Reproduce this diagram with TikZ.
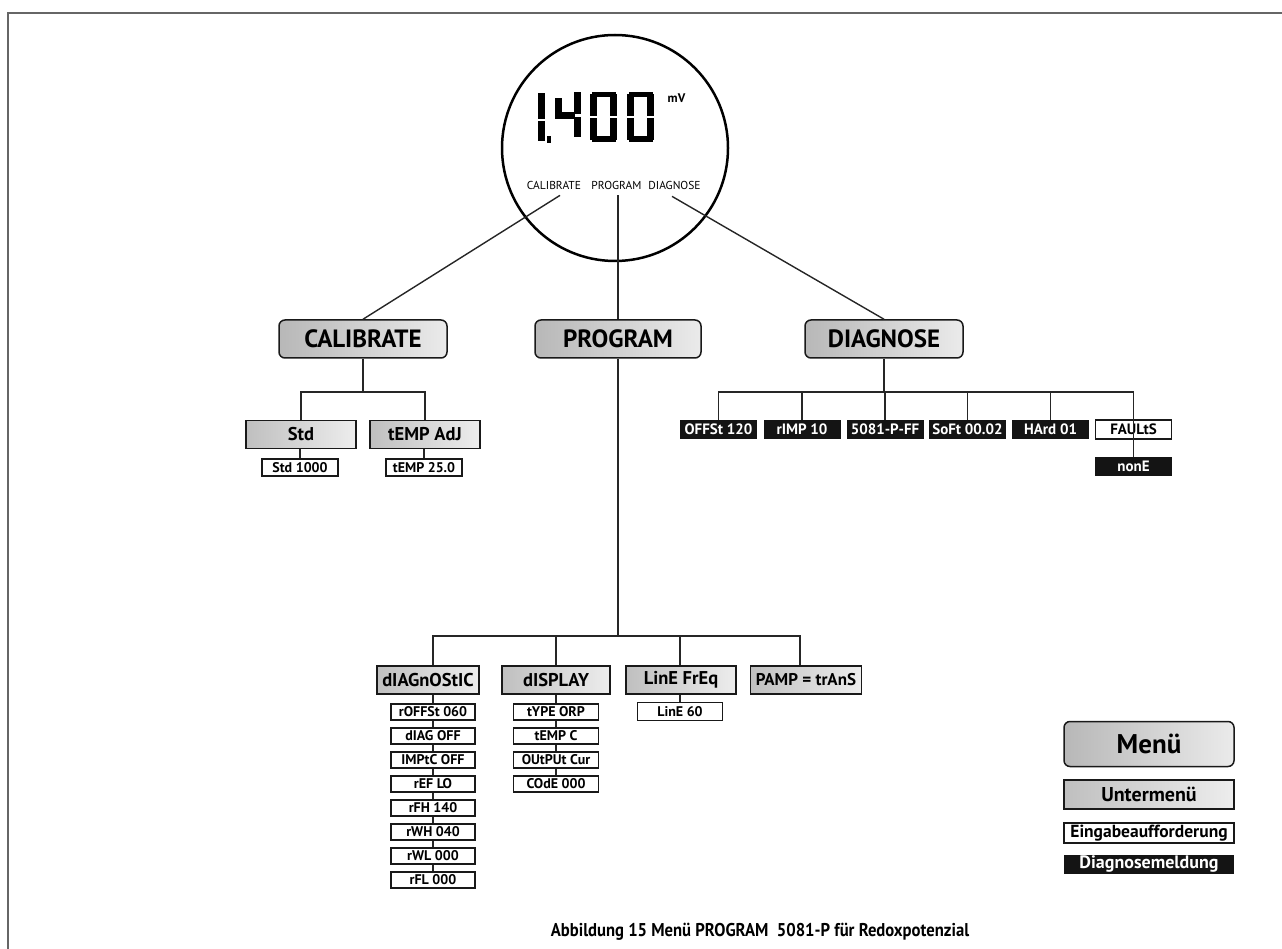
\documentclass[tikz,border=0pt]{standalone}
\usepackage{fontspec}
\setmainfont{PT Sans}
\newfontfamily\capfont[FakeStretch=0.9]{PT Sans}
\usetikzlibrary{calc}
\newcommand{\segrect}[4]{\fill (#1,#2) rectangle (#3,#4);}
\newcommand{\sevenzero}[1]{%
  \segrect{#1+1.5}{92}{#1+25.5}{97.5}
  \segrect{#1}{94}{#1+7}{116}
  \segrect{#1}{118}{#1+7}{140}
  \segrect{#1+20}{94}{#1+27}{116}
  \segrect{#1+20}{118}{#1+27}{140}
  \segrect{#1+1.5}{136.5}{#1+25.5}{142}}
\begin{document}
\begin{tikzpicture}[x=1pt,y=-1pt,
  conn/.style={draw=black!85, line width=1.4pt},
  menubox/.style={draw=black!90, line width=1.5pt, rounded corners=6pt, left color=black!28, right color=black!8, minimum height=38, inner sep=0pt, font=\fontsize{25}{30}\selectfont\bfseries},
  subbox/.style={draw=black!90, line width=1.3pt, left color=black!25, right color=black!7, minimum height=28, inner sep=0pt, font=\fontsize{18.5}{22}\selectfont\bfseries},
  itembox/.style={draw=black!90, line width=1.1pt, fill=white, minimum height=16, inner sep=0pt, font=\fontsize{14}{16}\selectfont\bfseries},
  diagbox/.style={fill=black!92, text=white, minimum height=19, minimum width=77, inner sep=0pt, font=\fontsize{15}{17}\selectfont\bfseries},
  lbl/.style={inner sep=0pt, font=\fontsize{11.5}{13}\selectfont}]
\useasboundingbox (0,0) rectangle (1282,949);
% frame
\draw[line width=2pt, black!60] (8,949) -- (8,13) -- (1282,13);

% display circle
\node[circle, draw, line width=2.5pt, minimum size=226, inner sep=0pt] (disp) at (615,148) {};
% seven segment "1,400"
\segrect{538}{93}{545}{119}
\segrect{538}{121}{545}{141}
\segrect{547}{136}{550.5}{143}
\segrect{555}{98}{562}{119}
\segrect{558}{112.5}{575}{119}
\segrect{573.5}{92}{580.5}{114}
\segrect{573.5}{117}{580.5}{137}
\sevenzero{590}
\sevenzero{627}
\node[inner sep=0pt, font=\fontsize{12.5}{14}\selectfont\bfseries] (mv) at (676.5,98.5) {mV};
\node[lbl] (lcal) at (554,185) {CALIBRATE};
\node[lbl] (lprog) at (616.5,185) {PROGRAM};
\node[lbl] (ldiag) at (674.5,185) {DIAGNOSE};

% menus
\node[menubox, minimum width=168] (cal) at (363,339) {CALIBRATE};
\node[menubox, minimum width=166] (prog) at (618,339) {PROGRAM};
\node[menubox, minimum width=158] (diag) at (884,339) {DIAGNOSE};

\draw[conn] ([shift={(6,6)}]lcal.south) -- (cal.north);
\draw[conn] ([shift={(1.5,6)}]lprog.south) -- (prog.north);
\draw[conn] ([shift={(-2.5,7)}]ldiag.south) -- (diag.north);

% CALIBRATE subtree
\node[subbox, minimum width=110] (std) at (301,434.5) {Std};
\node[subbox, minimum width=110] (tadj) at (425,434.5) {tEMP AdJ};
\node[itembox, minimum width=76, minimum height=17] (std1) at (300,467.5) {Std 1000};
\node[itembox, minimum width=76, minimum height=17] (temp1) at (424,467.5) {tEMP 25.0};
\coordinate (cbus) at (0,392);
\draw[conn] (cal.south) -- (cal.south |- cbus);
\draw[conn] (std.north) -- (std.north |- cbus) -- (tadj.north |- cbus) -- (tadj.north);
\draw[conn] (std1.north) -- (std1.north |- std.south);
\draw[conn] (temp1.north) -- (temp1.north |- tadj.south);

% DIAGNOSE subtree
\node[diagbox] (d1) at (718.5,429.5) {OFFSt 120};
\node[diagbox] (d2) at (802,429.5) {rIMP 10};
\node[diagbox] (d3) at (885,429.5) {5081-P-FF};
\node[diagbox] (d4) at (967.5,429.5) {SoFt 00.02};
\node[diagbox] (d5) at (1050.5,429.5) {HArd 01};
\node[draw=black!90, line width=1.1pt, fill=white, minimum height=19, minimum width=76, inner sep=0pt, font=\fontsize{15}{17}\selectfont\bfseries] (d6) at (1133.5,429.5) {FAULtS};
\node[diagbox] (none) at (1133.5,466.5) {nonE};
\coordinate (dbus) at (0,392);
\draw[conn] (diag.south) -- (diag.south |- dbus);
\draw[conn] (d1.north) -- (d1.north |- dbus) -- (d6.north |- dbus) -- (none.north);
\foreach \n in {d2,d3,d4,d5} \draw[conn] (\n.north) -- (\n.north |- dbus);

% PROGRAM subtree
\node[subbox, minimum width=102] (dgn) at (428,680) {dIAGnOStIC};
\node[subbox, minimum width=108] (dsp) at (556,680) {dISPLAY};
\node[subbox, minimum width=110] (lfq) at (681,680) {LinE FrEq};
\node[subbox, minimum width=111, font=\fontsize{17}{20}\selectfont\bfseries] (pamp) at (806,680) {PAMP = trAnS};
\coordinate (pbus) at (0,636);
\draw[conn] (prog.south) -- (prog.south |- pbus);

\foreach \i/\t in {1/rOFFSt 060,2/dIAG OFF,3/IMPtC OFF,4/rEF LO,5/rFH 140,6/rWH 040,7/rWL 000,8/rFL 000}
  \node[itembox, minimum width=84] (g\i) at (433,{712+24*(\i-1)}) {\t};
\foreach \i/\t in {1/tYPE ORP,2/tEMP C,3/OUtPUt Cur,4/COdE 000}
  \node[itembox, minimum width=85] (s\i) at (556,{712+24*(\i-1)}) {\t};
\node[itembox, minimum width=85, minimum height=18] (l1) at (680,711.5) {LinE 60};

\draw[conn] (g1.north |- dgn.north) -- (g1.north |- pbus) -- ([xshift=-6]pamp.north |- pbus) -- ([xshift=-6]pamp.north);
\draw[conn] (dsp.north) -- (dsp.north |- pbus);
\draw[conn] (l1.north |- lfq.north) -- (l1.north |- pbus);
\draw[conn] (g1.north) -- (g1.north |- dgn.south);
\foreach \a/\b in {g1/g2,g2/g3,g3/g4,g4/g5,g5/g6,g6/g7,g7/g8,s1/s2,s2/s3,s3/s4}
  \draw[conn] (\a.south) -- (\b.north);
\draw[conn] (s1.north) -- (s1.north |- dsp.south);
\draw[conn] (l1.north) -- (l1.north |- lfq.south);

% legend
\node[menubox, minimum width=170, minimum height=45, font=\fontsize{27}{32}\selectfont\bfseries] (lgm) at (1149,744) {Menü};
\node[subbox, minimum width=170, minimum height=29, font=\fontsize{20}{24}\selectfont\bfseries] (lgu) at (1149,794.5) {Untermenü};
\node[itembox, minimum width=170, minimum height=20, font=\fontsize{17.5}{20}\selectfont\bfseries] (lge) at (1149,833) {Eingabeaufforderung};
\node[diagbox, minimum width=170, minimum height=19, font=\fontsize{18}{20}\selectfont\bfseries] (lgd) at (1149,864.5) {Diagnosemeldung};

% caption
\node[inner sep=0pt, font=\capfont\fontsize{18.5}{22}\selectfont\bfseries] (cap) at (760,932) {Abbildung 15 Menü PROGRAM\ \ 5081-P für Redoxpotenzial};
\end{tikzpicture}
\end{document}
